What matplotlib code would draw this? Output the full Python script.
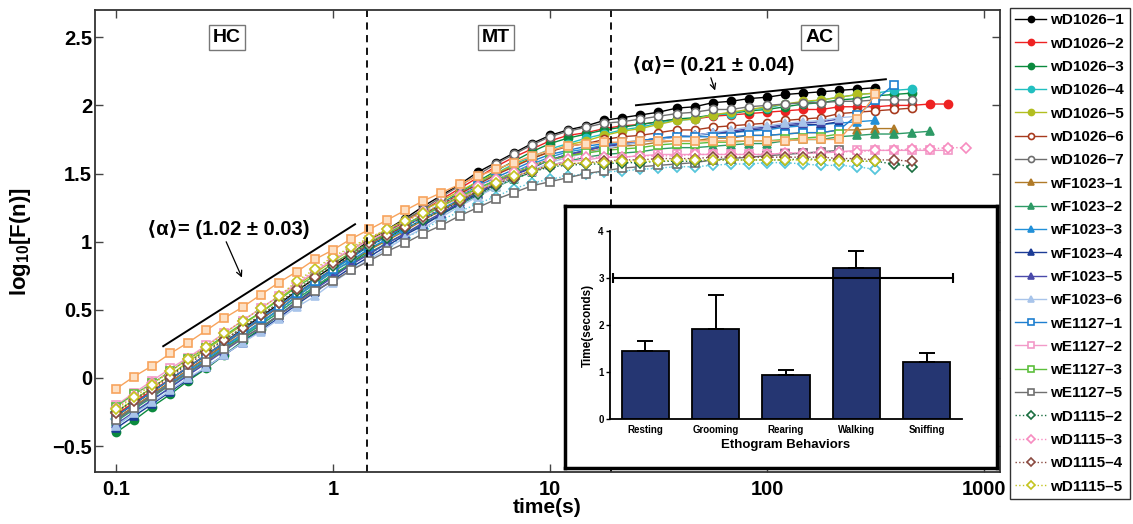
import matplotlib
matplotlib.use('Agg')
import matplotlib.pyplot as plt
from matplotlib.ticker import FixedLocator, NullLocator

plt.rcParams['font.family'] = ['Liberation Sans', 'DejaVu Sans']
plt.rcParams['font.weight'] = 'bold'
plt.rcParams['mathtext.fontset'] = 'custom'
plt.rcParams['mathtext.bf'] = 'Liberation Sans:bold'
plt.rcParams['mathtext.rm'] = 'Liberation Sans:bold'

# ---------------- data ----------------
T = [0.1, 0.121, 0.147, 0.178, 0.215, 0.261, 0.316, 0.383, 0.464, 0.562, 0.681, 0.825,
     1.0, 1.21, 1.47, 1.78, 2.15, 2.61, 3.16, 3.83, 4.64, 5.62, 6.81, 8.25,
     10.0, 12.1, 14.7, 17.8, 21.5, 26.1, 31.6, 38.3, 46.4, 56.2, 68.1, 82.5,
     100, 121, 147, 178, 215, 261, 316, 383, 464, 562, 681, 825]

NAMES = ['wD1026\u20131', 'wD1026\u20132', 'wD1026\u20133', 'wD1026\u20134', 'wD1026\u20135',
         'wD1026\u20136', 'wD1026\u20137', 'wF1023\u20131', 'wF1023\u20132', 'wF1023\u20133',
         'wF1023\u20134', 'wF1023\u20135', 'wF1023\u20136', 'wE1127\u20131', 'wE1127\u20132',
         'wE1127\u20133', 'wE1127\u20135', 'wD1115\u20132', 'wD1115\u20133', 'wD1115\u20134',
         'wD1115\u20135']

wD1026_1 = [-0.28,-0.19,-0.10,-0.01,0.08,0.17,0.26,0.36,0.45,0.54,0.64,0.73,0.82,
            0.91,1.01,1.09,1.17,1.26,1.34,1.42,1.51,1.58,1.65,1.72,1.78,
            1.82,1.85,1.89,1.91,1.93,1.95,1.98,1.99,2.02,2.03,2.05,2.06,
            2.08,2.09,2.10,2.11,2.12,2.13]
wD1026_2 = [-0.27,-0.18,-0.09,-0.01,0.08,0.17,0.26,0.35,0.44,0.53,0.62,0.71,0.80,
            0.89,0.98,1.07,1.15,1.23,1.31,1.39,1.47,1.55,1.62,1.68,1.74,
            1.78,1.80,1.83,1.85,1.86,1.88,1.90,1.90,1.92,1.93,1.94,1.95,
            1.96,1.97,1.97,1.99,1.99,1.99,2.00,2.00,2.01,2.01]
wD1026_3 = [-0.40,-0.31,-0.21,-0.12,-0.02,0.07,0.17,0.27,0.36,0.46,0.56,0.66,0.75,
            0.84,0.94,1.02,1.11,1.19,1.28,1.36,1.44,1.52,1.59,1.66,1.72,
            1.76,1.79,1.82,1.84,1.86,1.88,1.90,1.91,1.93,1.94,1.96,1.97,
            1.99,2.01,2.02,2.04,2.05,2.07,2.08,2.09]
wD1026_4 = [-0.35,-0.26,-0.16,-0.07,0.03,0.12,0.22,0.31,0.40,0.50,0.60,0.70,0.79,
            0.88,0.97,1.04,1.12,1.20,1.28,1.35,1.43,1.50,1.57,1.62,1.68,
            1.72,1.76,1.79,1.82,1.84,1.87,1.89,1.90,1.93,1.94,1.97,1.98,
            2.01,2.02,2.04,2.06,2.08,2.09,2.11,2.12]
wD1026_5 = [-0.25,-0.16,-0.07,0.02,0.12,0.21,0.30,0.39,0.48,0.58,0.68,0.77,0.86,
            0.94,1.02,1.09,1.16,1.23,1.30,1.37,1.44,1.50,1.56,1.61,1.66,
            1.71,1.74,1.78,1.81,1.83,1.86,1.89,1.90,1.93,1.95,1.97,1.99,
            2.01,2.03,2.04,2.06,2.08,2.09]
wD1026_6 = [-0.28,-0.19,-0.10,-0.01,0.08,0.17,0.26,0.35,0.43,0.52,0.62,0.71,0.80,
            0.89,0.97,1.05,1.12,1.20,1.27,1.35,1.42,1.49,1.55,1.61,1.66,
            1.70,1.72,1.75,1.77,1.78,1.80,1.82,1.82,1.84,1.85,1.86,1.87,
            1.89,1.90,1.91,1.94,1.95,1.96,1.97,1.98]
wD1026_7 = [-0.30,-0.21,-0.12,-0.03,0.06,0.15,0.25,0.34,0.43,0.52,0.62,0.71,0.80,
            0.89,0.99,1.07,1.16,1.24,1.33,1.41,1.49,1.57,1.64,1.71,1.77,
            1.81,1.84,1.87,1.88,1.90,1.92,1.94,1.95,1.97,1.97,1.99,2.00,
            2.01,2.02,2.02,2.03,2.03,2.04,2.04,2.04]
wF1023_1 = [-0.30,-0.21,-0.12,-0.03,0.06,0.15,0.24,0.32,0.41,0.50,0.60,0.69,0.78,
            0.86,0.94,1.01,1.08,1.16,1.23,1.30,1.37,1.44,1.50,1.56,1.60,
            1.63,1.66,1.68,1.70,1.71,1.73,1.74,1.74,1.76,1.76,1.78,1.78,
            1.79,1.80,1.80,1.82,1.82,1.83,1.83]
wF1023_2 = [-0.32,-0.23,-0.14,-0.05,0.04,0.13,0.22,0.30,0.39,0.48,0.58,0.67,0.76,
            0.84,0.92,0.99,1.06,1.13,1.20,1.27,1.34,1.40,1.46,1.51,1.56,
            1.59,1.62,1.64,1.65,1.66,1.68,1.69,1.69,1.70,1.71,1.72,1.72,
            1.74,1.75,1.75,1.77,1.78,1.79,1.79,1.80,1.81]
wF1023_3 = [-0.31,-0.22,-0.13,-0.04,0.05,0.14,0.23,0.32,0.41,0.50,0.60,0.69,0.78,
            0.86,0.95,1.02,1.09,1.17,1.24,1.31,1.39,1.45,1.51,1.57,1.62,
            1.66,1.68,1.71,1.72,1.74,1.76,1.77,1.78,1.79,1.80,1.81,1.82,
            1.84,1.85,1.86,1.87,1.88,1.89]
wF1023_4 = [-0.37,-0.28,-0.19,-0.10,-0.01,0.08,0.17,0.26,0.35,0.44,0.54,0.63,0.72,
            0.81,0.89,0.97,1.05,1.12,1.20,1.28,1.35,1.42,1.49,1.54,1.60,
            1.64,1.67,1.70,1.71,1.73,1.75,1.77,1.78,1.80,1.80,1.82,1.83,
            1.85,1.86,1.86,1.88]
wF1023_5 = [-0.34,-0.25,-0.16,-0.07,0.02,0.11,0.20,0.29,0.37,0.46,0.56,0.65,0.74,
            0.83,0.91,0.99,1.06,1.14,1.21,1.29,1.36,1.43,1.49,1.55,1.60,
            1.64,1.67,1.70,1.72,1.74,1.76,1.77,1.78,1.80,1.81,1.83,1.84,
            1.86,1.87,1.88,1.90]
wF1023_6 = [-0.35,-0.26,-0.18,-0.09,0.00,0.08,0.17,0.26,0.34,0.43,0.52,0.60,0.70,
            0.79,0.87,0.95,1.03,1.10,1.18,1.26,1.33,1.40,1.47,1.52,1.58,
            1.62,1.65,1.68,1.71,1.73,1.75,1.77,1.78,1.80,1.82,1.84,1.85,
            1.87,1.88,1.89,1.91,1.92]
wE1127_1 = [-0.28,-0.19,-0.10,-0.01,0.08,0.17,0.26,0.35,0.44,0.53,0.62,0.71,0.80,
            0.88,0.97,1.04,1.11,1.19,1.26,1.33,1.41,1.47,1.53,1.59,1.64,
            1.67,1.70,1.72,1.73,1.74,1.76,1.77,1.77,1.77,1.77,1.78,1.78,
            1.79,1.80,1.80,1.82,1.93,2.04,2.15]
wE1127_2 = [-0.20,-0.11,-0.02,0.07,0.15,0.24,0.33,0.42,0.51,0.60,0.69,0.78,0.87,
            0.94,1.01,1.07,1.13,1.19,1.26,1.32,1.38,1.43,1.48,1.52,1.56,
            1.59,1.60,1.62,1.62,1.63,1.64,1.64,1.64,1.64,1.64,1.64,1.64,
            1.65,1.65,1.65,1.66,1.67,1.67,1.67,1.67,1.67,1.67]
wE1127_3 = [-0.21,-0.12,-0.04,0.05,0.14,0.22,0.31,0.40,0.48,0.57,0.67,0.75,0.84,
            0.92,0.99,1.06,1.13,1.19,1.26,1.33,1.39,1.45,1.51,1.55,1.60,
            1.63,1.65,1.67,1.68,1.69,1.71,1.72,1.72,1.73,1.73,1.74,1.74,
            1.75,1.76,1.77,1.79]
wE1127_5 = [-0.31,-0.22,-0.13,-0.05,0.04,0.12,0.21,0.29,0.37,0.46,0.55,0.64,0.71,
            0.79,0.86,0.93,0.99,1.06,1.12,1.19,1.25,1.31,1.36,1.41,1.44,
            1.47,1.50,1.52,1.54,1.55,1.56,1.57,1.58,1.60,1.61,1.62,1.63,
            1.64,1.65,1.66,1.67]
wD1115_2 = [-0.25,-0.16,-0.07,0.02,0.11,0.20,0.28,0.37,0.46,0.55,0.64,0.73,0.82,
            0.89,0.97,1.03,1.10,1.16,1.23,1.29,1.35,1.41,1.46,1.51,1.55,
            1.56,1.57,1.57,1.58,1.58,1.59,1.59,1.59,1.60,1.60,1.60,1.60,
            1.60,1.61,1.60,1.60,1.59,1.59,1.57,1.55]
wD1115_3 = [-0.22,-0.13,-0.04,0.05,0.14,0.23,0.33,0.42,0.51,0.60,0.70,0.79,0.88,
            0.95,1.03,1.09,1.15,1.22,1.28,1.34,1.41,1.46,1.51,1.56,1.60,
            1.61,1.62,1.62,1.62,1.63,1.63,1.63,1.64,1.64,1.64,1.64,1.64,
            1.65,1.65,1.66,1.66,1.66,1.67,1.67,1.68,1.68,1.69,1.69]
wD1115_4 = [-0.26,-0.17,-0.08,0.01,0.10,0.19,0.28,0.37,0.46,0.55,0.65,0.74,0.84,
            0.91,0.99,1.05,1.11,1.18,1.24,1.30,1.37,1.42,1.47,1.52,1.56,
            1.57,1.58,1.59,1.60,1.60,1.61,1.61,1.61,1.62,1.62,1.62,1.62,
            1.62,1.62,1.62,1.61,1.61,1.60,1.60,1.59]
wD1115_5 = [-0.23,-0.14,-0.05,0.05,0.14,0.23,0.33,0.42,0.51,0.60,0.71,0.80,0.89,
            0.96,1.03,1.09,1.15,1.21,1.27,1.32,1.38,1.43,1.48,1.52,1.56,
            1.57,1.58,1.58,1.59,1.59,1.59,1.60,1.60,1.60,1.60,1.60,1.60,
            1.60,1.60,1.60,1.59,1.59,1.59]
# two further traces drawn in the figure but absent from the legend
extra_orange = [-0.08,0.01,0.09,0.18,0.26,0.35,0.44,0.52,0.61,0.70,0.78,0.87,0.94,
                1.02,1.09,1.16,1.23,1.30,1.36,1.42,1.48,1.53,1.58,1.63,1.67,
                1.70,1.72,1.73,1.73,1.74,1.74,1.74,1.74,1.74,1.74,1.74,1.74,
                1.74,1.75,1.75,1.75,1.90,2.08]
extra_cyan = [-0.30,-0.21,-0.13,-0.04,0.05,0.14,0.23,0.31,0.40,0.49,0.59,0.67,0.76,
              0.83,0.91,0.97,1.03,1.09,1.16,1.22,1.28,1.33,1.39,1.43,1.46,
              1.48,1.50,1.51,1.52,1.53,1.54,1.55,1.55,1.56,1.57,1.57,1.58,
              1.58,1.57,1.56,1.56,1.55,1.53]

SERIES = [wD1026_1, wD1026_2, wD1026_3, wD1026_4, wD1026_5, wD1026_6, wD1026_7,
          wF1023_1, wF1023_2, wF1023_3, wF1023_4, wF1023_5, wF1023_6,
          wE1127_1, wE1127_2, wE1127_3, wE1127_5,
          wD1115_2, wD1115_3, wD1115_4, wD1115_5]

XTICKS = [0.1, 1, 10, 100, 1000]
XTICKLABELS = ['0.1', '1', '10', '100', '1000']
YTICKS = [-0.5, 0, 0.5, 1, 1.5, 2, 2.5]
YTICKLABELS = ['\u22120.5', '0', '0.5', '1', '1.5', '2', '2.5']
REGION_BOUNDS = [1.43, 19.0]
REGIONS = ['HC', 'MT', 'AC']
REGION_X = [0.325, 5.64, 174]

BEHAVIORS = ['Resting', 'Grooming', 'Rearing', 'Walking', 'Sniffing']
BAR_MEANS = [1.45, 1.91, 0.94, 3.22, 1.22]
BAR_ERR = [0.21, 0.72, 0.11, 0.35, 0.18]
THRESH = 3.0
THRESH_SPAN = [-0.46, 4.37]

# ---------------- styles ----------------
COLORS = ['#000000', '#ee2222', '#0b8a3e', '#22bfc0', '#b2be20', '#a83a1e', '#6e6e6e',
          '#b07a28', '#2e9a66', '#2290d8', '#1c3c96', '#4a4aaa', '#a8c4ea',
          '#1e7fd0', '#f29ac8', '#5cbf3c', '#707070',
          '#1a6e40', '#f78cc0', '#8a4a40', '#c4c41e']
MARKERS = ['o'] * 7 + ['^'] * 6 + ['s'] * 4 + ['D'] * 4
FILLED = [True] * 5 + [False] * 2 + [True] * 6 + [False] * 4 + [False] * 4
LSTYLE = ['-'] * 17 + [':'] * 4

fig = plt.figure(figsize=(11.33, 5.24), dpi=100)
ax = fig.add_axes([95/1133, 1-472/524, 905/1133, 462/524])

ax.plot(T[:len(extra_cyan)], extra_cyan, color='#56c6dc', marker='D', ms=5,
        mfc='white', mec='#56c6dc', mew=1.3, lw=1, ls=':')
lines = []
for name, y, c, m, f, ls in zip(NAMES, SERIES, COLORS, MARKERS, FILLED, LSTYLE):
    ms = 5 if m == 'D' else 5.8
    ln, = ax.plot(T[:len(y)], y, color=c, marker=m, ms=ms,
                  mfc=(c if f else 'white'), mec=c, mew=1.2, lw=1, ls=ls, label=name)
    lines.append(ln)
ax.plot(T[:len(extra_orange)], extra_orange, color='#f7a35c', marker='s', ms=5.8,
        mfc='#fde0c4', mec='#f7a35c', mew=1.2, lw=1, ls='-')

ax.set_xscale('log')
ax.set_xlim(0.080, 1185)
ax.set_ylim(-0.69, 2.70)
ax.xaxis.set_major_locator(FixedLocator(XTICKS))
ax.xaxis.set_minor_locator(NullLocator())
ax.set_xticklabels(XTICKLABELS)
ax.set_yticks(YTICKS)
ax.set_yticklabels(YTICKLABELS)
ax.tick_params(axis='both', direction='in', length=6, width=1, top=True, right=True,
               labelsize=14.5, color='#444444')
ax.tick_params(axis='x', pad=6)
ax.tick_params(axis='y', pad=2)
for sp in ax.spines.values():
    sp.set_linewidth(1.3)
    sp.set_color('#333333')

ax.set_xlabel('time(s)', fontsize=15, fontweight='bold')
ax.xaxis.set_label_coords(0.5, -0.057)
ax.set_ylabel(r'$\mathbf{log_{10}[F(n)]}$', fontsize=16)
ax.yaxis.set_label_coords(-0.068, 0.5)

for b in REGION_BOUNDS:
    ax.axvline(b, color='k', ls=(0, (4, 3)), lw=1.3)
for lab, x in zip(REGIONS, REGION_X):
    ax.text(x, 2.497, lab, ha='center', va='center', fontsize=14, fontweight='bold',
            bbox=dict(boxstyle='square,pad=0.22', fc='white', ec='#777777', lw=1))

# slope guides
ax.plot([0.165, 1.263], [0.233, 1.128], color='k', lw=1.4)
ax.plot([24.9, 353], [2.001, 2.192], color='k', lw=1.4)
ax.text(0.328, 1.091, '\u27e8\u03b1\u27e9= (1.02 \u00b1 0.03)', ha='center', va='center',
        fontsize=14.5, fontweight='bold')
ax.text(56.4, 2.295, '\u27e8\u03b1\u27e9= (0.21 \u00b1 0.04)', ha='center', va='center',
        fontsize=14.5, fontweight='bold')
ax.annotate('', xy=(0.385, 0.718), xytext=(0.318, 1.018),
            arrowprops=dict(arrowstyle='->', color='k', lw=0.9))
ax.annotate('', xy=(58.2, 2.09), xytext=(54.6, 2.222),
            arrowprops=dict(arrowstyle='->', color='k', lw=0.9))

# legend
leg = fig.legend(handles=lines, labels=NAMES, loc='upper left',
                 bbox_to_anchor=(1010/1133, 1-8/524), frameon=True, fancybox=False,
                 edgecolor='black', prop={'weight': 'bold', 'size': 11},
                 handlelength=2.0, handletextpad=0.3, labelspacing=0.61,
                 borderpad=0.35, borderaxespad=0, markerscale=0.75)
leg.get_frame().set_linewidth(1.0)

# inset frame
box = fig.add_axes([565/1133, 1-468/524, 432/1133, 262/524])
box.set_xticks([])
box.set_yticks([])
box.set_facecolor('white')
for sp in box.spines.values():
    sp.set_linewidth(2.5)
    sp.set_color('black')

iax = fig.add_axes([610/1133, 1-419/524, 352/1133, 188/524])
iax.patch.set_alpha(0)
xs = list(range(len(BEHAVIORS)))
iax.bar(xs, BAR_MEANS, width=0.67, color='#253672', edgecolor='black', lw=1.3,
        yerr=[[0]*len(BAR_ERR), BAR_ERR], capsize=5.5,
        error_kw=dict(elinewidth=1.4, capthick=1.4, ecolor='black'))
iax.plot(THRESH_SPAN, [THRESH, THRESH], color='black', lw=1.5, marker='|', ms=7, mew=1.5)
iax.set_xlim(-0.5, 4.5)
iax.set_ylim(0, 4)
iax.set_yticks([0, 1, 2, 3, 4])
iax.set_xticks(xs)
iax.set_xticklabels(BEHAVIORS)
iax.tick_params(axis='y', direction='out', length=3, width=1, labelsize=7, pad=1.5)
iax.tick_params(axis='x', length=0, labelsize=7, pad=4)
iax.spines['top'].set_visible(False)
iax.spines['right'].set_visible(False)
iax.spines['left'].set_linewidth(1.3)
iax.spines['bottom'].set_linewidth(1.3)
iax.set_ylabel('Time(seconds)', fontsize=8.5, fontweight='bold', labelpad=3)
iax.set_xlabel('Ethogram Behaviors', fontsize=9.5, fontweight='bold', labelpad=3)

fig.savefig('out.png', dpi=100)
